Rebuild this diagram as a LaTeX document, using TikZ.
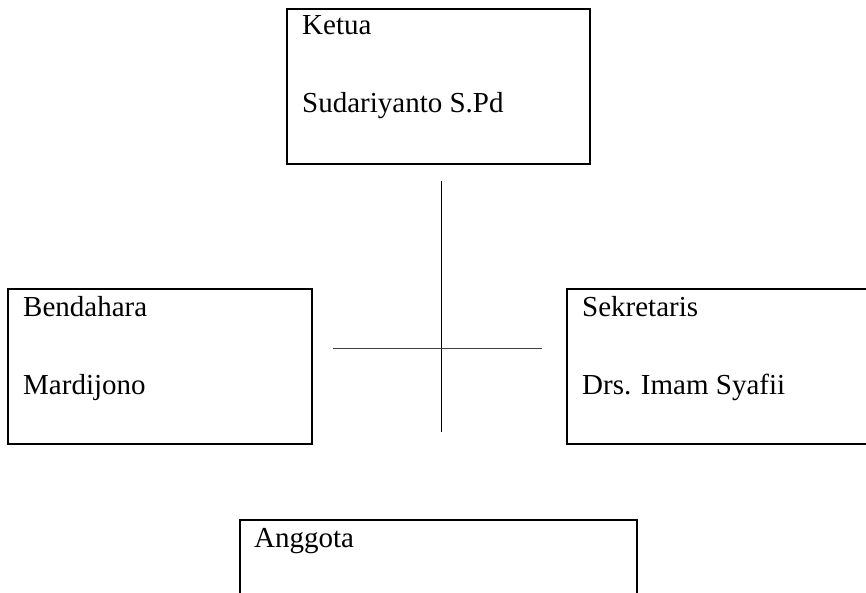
\documentclass[tikz,border=0pt]{standalone}
\usepackage{fontspec}
\setmainfont{Liberation Serif}
\begin{document}
\begin{tikzpicture}[x=1pt,y=-1pt,
  orgbox/.style={draw=black,line width=1.6pt,rectangle,inner sep=0pt,outer sep=0pt,anchor=north west},
  lbl/.style={anchor=base west,inner sep=0pt,font=\fontsize{29}{34}\selectfont},
  link/.style={draw=black,line width=1pt}]
\useasboundingbox (0,0) rectangle (866,593);
\clip (0,0) rectangle (866,593);
\fill[white] (0,0) rectangle (866,593);
% boxes
\node[orgbox,minimum width=303pt,minimum height=155pt] (ketua) at (287,9) {};
\node[orgbox,minimum width=304pt,minimum height=155pt] (bendahara) at (8,289) {};
\node[orgbox,minimum width=320pt,minimum height=155pt] (sekretaris) at (567,289) {};
\node[orgbox,minimum width=397pt,minimum height=120pt] (anggota) at (240,520) {};
% texts
\node[lbl] (t1) at (302,35) {Ketua};
\node[lbl] (t2) at (302,113) {Sudariyanto S.Pd};
\node[lbl] (t3) at (23,316) {Bendahara};
\node[lbl] (t4) at (23,394) {Mardijono};
\node[lbl] (t5) at (582,316) {Sekretaris};
\node[lbl] (t6) at (582,394) {Drs. Imam Syafii};
\node[lbl] (t7) at (254,547) {Anggota};
% cross lines
\coordinate (vtop) at (441,181);
\coordinate (vbot) at (441,432);
\coordinate (hl) at (333,348);
\coordinate (hr) at (542,348);
\draw[link] (vtop) -- (vbot);
\draw[link,draw=black!75] (hl) -- (hr);
\end{tikzpicture}
\end{document}
